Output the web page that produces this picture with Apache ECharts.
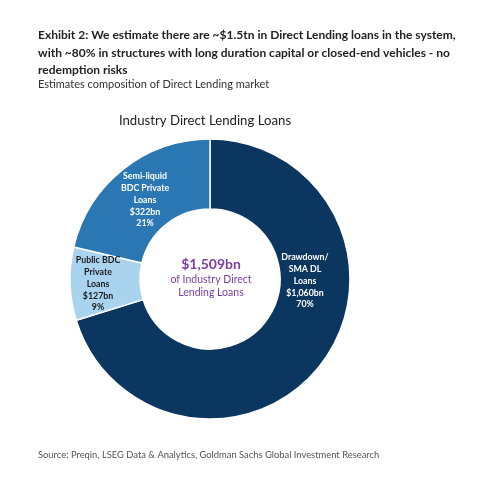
<!DOCTYPE html>
<html>
<head>
<meta charset="utf-8">
<script src="https://cdn.jsdelivr.net/npm/echarts@6/dist/echarts.min.js"></script>
<style>html,body{margin:0;padding:0;background:#fff;}#c{width:485px;height:477px;}</style>
</head>
<body>
<div id="c"></div>
<script>
const categories = ['Drawdown/\nSMA DL\nLoans', 'Public BDC\nPrivate\nLoans', 'Semi-liquid\nBDC Private\nLoans'];
const values = [1060, 127, 322];
const shares = ['70%', '9%', '21%'];
const amounts = ['$1,060bn', '$127bn', '$322bn'];
const totalLabel = '$1,509bn';
const colors = ['#0a3660', '#aad3f0', '#2a77b4'];
const labelColors = ['#ffffff', '#1a1a1a', '#ffffff'];
const labelPos = [[305, 281], [98, 284], [145, 200]];

const chart = echarts.init(document.getElementById('c'), null, {renderer: 'canvas'});
const font = 'Lato, "Open Sans", sans-serif';
chart.setOption({
  animation: false,
  title: [
    {
      text: 'Exhibit 2: We estimate there are ~$1.5tn in Direct Lending loans in the system,\nwith ~80% in structures with long duration capital or closed-end vehicles - no\nredemption risks',
      left: 38, top: 26, padding: 0,
      textStyle: {fontFamily: font, fontSize: 12, fontWeight: 'bold', color: '#222', lineHeight: 17.8}
    },
    {
      text: 'Estimates composition of Direct Lending market',
      left: 38, top: 79, padding: 0,
      textStyle: {fontFamily: font, fontSize: 11, fontWeight: 'normal', color: '#333'}
    },
    {
      text: 'Industry Direct Lending Loans',
      left: 205, top: 114, textAlign: 'center', padding: 0,
      textStyle: {fontFamily: font, fontSize: 13.2, fontWeight: 'normal', color: '#222'}
    },
    {
      text: totalLabel,
      subtext: 'of Industry Direct\nLending Loans',
      left: 211, top: 257, textAlign: 'center', itemGap: 2, padding: 0,
      textStyle: {fontFamily: font, fontSize: 14, fontWeight: 'bold', color: '#7a3ea0'},
      subtextStyle: {fontFamily: font, fontSize: 10.5, color: '#7a3ea0', lineHeight: 13}
    },
    {
      text: 'Source: Preqin, LSEG Data & Analytics, Goldman Sachs Global Investment Research',
      left: 38, top: 450, padding: 0,
      textStyle: {fontFamily: font, fontSize: 9.4, fontWeight: 'normal', color: '#555'}
    }
  ],
  series: [{
    type: 'pie',
    center: [210, 279],
    radius: [70, 140],
    startAngle: 90,
    clockwise: true,
    itemStyle: {borderColor: '#fff', borderWidth: 1.5},
    labelLine: {show: false},
    label: {
      show: true, position: 'inside',
      fontFamily: font, fontSize: 8.8, fontWeight: 'bold', lineHeight: 11.7,
      align: 'center',
      formatter: p => p.name + '\n' + amounts[p.dataIndex] + '\n' + shares[p.dataIndex]
    },
    labelLayout: p => ({x: labelPos[p.dataIndex][0], y: labelPos[p.dataIndex][1], align: 'center', verticalAlign: 'middle'}),
    emphasis: {disabled: true},
    data: categories.map((c, i) => ({
      name: c, value: values[i],
      itemStyle: {color: colors[i]},
      label: {color: labelColors[i]}
    }))
  }]
});
</script>
</body>
</html>
